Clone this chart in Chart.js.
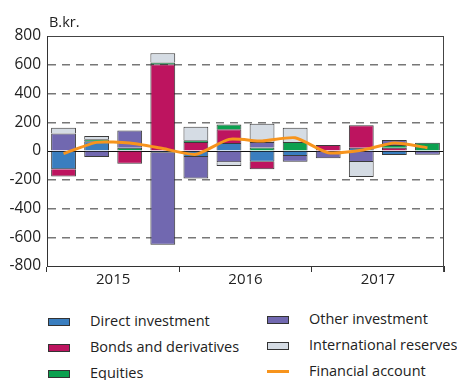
<!DOCTYPE html>
<html>
<head>
<meta charset="utf-8">
<script src="https://cdn.jsdelivr.net/npm/chart.js@4.4.1/dist/chart.umd.min.js"></script>
<style>
  body { margin: 0; background: #fff; font-family: 'Open Sans', sans-serif; }
  #wrap { position: relative; width: 457px; height: 380px; overflow: hidden; }
  #chart { position: absolute; left: 0; top: 0; }
  .lg-text { position: absolute; font-size: 14.5px; color: #222; white-space: nowrap; line-height: 16px; }
  .lg-box { position: absolute; width: 22px; height: 8px; border: 1px solid #333; box-sizing: border-box; }
  .lg-line { position: absolute; width: 22px; height: 3px; }
</style>
</head>
<body>
<div id="wrap">
  <canvas id="chart" width="457" height="292"></canvas>
  <div id="legend"></div>
</div>
<script>
// Quarters 2015Q1 – 2017Q4, billion kr.
const quarters = ['2015Q1', '2015Q2', '2015Q3', '2015Q4',
                  '2016Q1', '2016Q2', '2016Q3', '2016Q4',
                  '2017Q1', '2017Q2', '2017Q3', '2017Q4'];
const years = ['2015', '2016', '2017'];

const directInvestment = [-127, 67, 7, -12, -42, 55, -74, -35, null, 22, -28, -6];
const bondsDerivatives = [-51, null, -88, 603, 62, 97, -53, null, 42, 157, 23, null];
const equities         = [null, 14, 16, 12, 12, 32, 25, 62, null, null, 19, 58];
const otherInvestment  = [122, -42, 120, -640, -150, -79, 37, -39, -51, -76, 35, -20];
const intlReserves     = [39, 23, null, 65, 95, -25, 127, 99, null, -104, null, null];
const financialAccount = [-18, 60, 55, 17, -23, 81, 69, 92, -12, 5, 55, 23];

const yTicks = { min: -800, max: 800, step: 200 };

Chart.defaults.font.family = "'Open Sans', sans-serif";
Chart.defaults.font.size = 15;
Chart.defaults.color = '#222';

function barSet(label, data, color) {
  return {
    type: 'bar', label, data,
    backgroundColor: color,
    borderColor: 'rgba(25,25,25,.85)',
    borderWidth: 1,
    barPercentage: 0.75,
    categoryPercentage: 1,
    order: 1,
  };
}

// "B.kr." unit label and right-hand frame line
const framePlugin = {
  id: 'frame',
  afterDraw(chart) {
    const { ctx, chartArea: a } = chart;
    ctx.save();
    ctx.strokeStyle = '#444';
    ctx.lineWidth = 1;
    ctx.beginPath();
    ctx.moveTo(a.right - 0.5, a.top);
    ctx.lineTo(a.right - 0.5, a.bottom + 6);
    ctx.stroke();
    ctx.fillStyle = '#222';
    ctx.font = "14.5px 'Open Sans', sans-serif";
    ctx.textBaseline = 'alphabetic';
    ctx.fillText('B.kr.', a.left + 2, 27);
    ctx.restore();
  },
};

const chart = new Chart(document.getElementById('chart'), {
  data: {
    labels: quarters,
    datasets: [
      barSet('Direct investment', directInvestment, '#3a7ebf'),
      barSet('Bonds and derivatives', bondsDerivatives, '#bd145f'),
      barSet('Equities', equities, '#0ba04f'),
      barSet('Other investment', otherInvestment, '#7168b0'),
      barSet('International reserves', intlReserves, '#d5dce4'),
      {
        type: 'line', label: 'Financial account', data: financialAccount,
        borderColor: '#f7941d', borderWidth: 3,
        pointRadius: 0, tension: 0.2, fill: false,
        stack: 'fa', order: 0,
      },
    ],
  },
  options: {
    responsive: false,
    animation: false,
    layout: { padding: { left: 0, right: 13, top: 36, bottom: 0 } },
    plugins: { legend: { display: false }, tooltip: { enabled: false } },
    scales: {
      x: { type: 'category', stacked: true, display: false, offset: true },
      years: {
        type: 'category', labels: years, position: 'bottom', offset: true,
        grid: { offset: true, drawOnChartArea: false, tickLength: 6, tickColor: '#333' },
        border: { color: '#333', width: 1 },
        ticks: { color: '#222', padding: -1, font: { size: 15 } },
        afterFit: s => { s.height = 26; },
      },
      y: {
        stacked: true,
        min: yTicks.min, max: yTicks.max,
        ticks: { stepSize: yTicks.step, color: '#222', padding: 6, font: { size: 15.5 } },
        grid: {
          drawTicks: false,
          color: c => {
            const v = c.tick ? c.tick.value : null;
            if (v === 0) return '#111';
            if (v === yTicks.max || v === yTicks.min) return '#444';
            return '#777';
          },
          lineWidth: c => (c.tick && Math.abs(c.tick.value) !== 0 && Math.abs(c.tick.value) !== yTicks.max) ? 1.4 : 1,
        },
        border: {
          color: '#333', width: 1,
          dash: c => {
            if (!c.tick) return [];
            const v = c.tick.value;
            return (v === 0 || Math.abs(v) === yTicks.max) ? [] : [8, 6];
          },
        },
        afterFit: s => { s.width = 47; },
      },
    },
  },
  plugins: [framePlugin],
});

// Two-column legend under the chart
const legendSlots = [
  { x: 48, y: 322 }, { x: 48, y: 348 }, { x: 48, y: 374 },
  { x: 267, y: 320 }, { x: 267, y: 346 }, { x: 267, y: 372 },
];
const legend = document.getElementById('legend');
chart.data.datasets.forEach((ds, i) => {
  const slot = legendSlots[i];
  const mark = document.createElement('div');
  if (ds.type === 'line') {
    mark.className = 'lg-line';
    mark.style.background = ds.borderColor;
    mark.style.top = (slot.y - 2) + 'px';
  } else {
    mark.className = 'lg-box';
    mark.style.background = ds.backgroundColor;
    mark.style.top = (slot.y - 4) + 'px';
  }
  mark.style.left = slot.x + 'px';
  legend.appendChild(mark);

  const txt = document.createElement('div');
  txt.className = 'lg-text';
  txt.textContent = ds.label;
  txt.style.left = (slot.x + 42) + 'px';
  txt.style.top = (slot.y - 9) + 'px';
  legend.appendChild(txt);
});
</script>
</body>
</html>
